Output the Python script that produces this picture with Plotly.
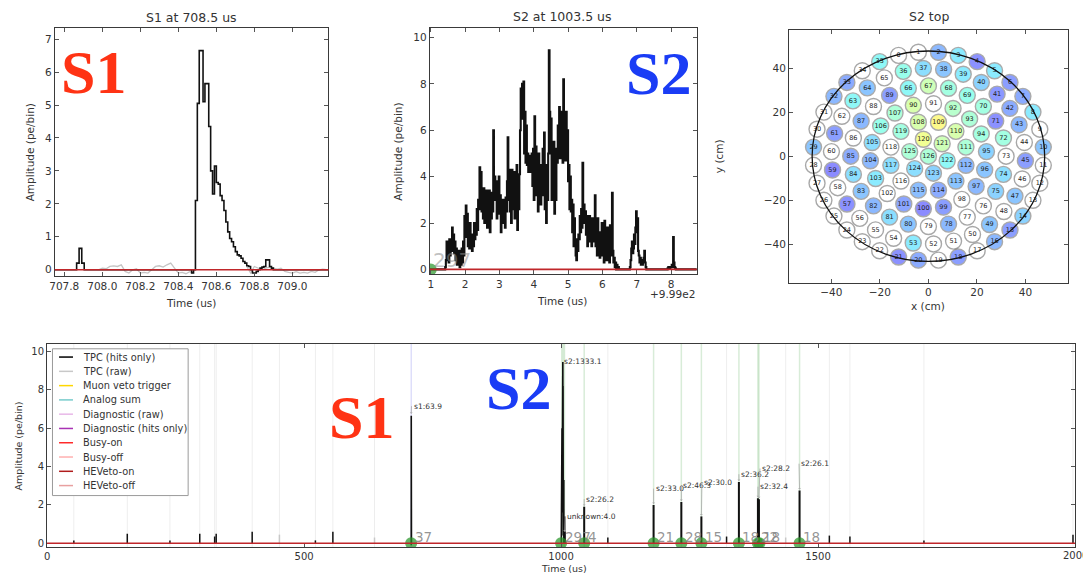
import numpy as np
import plotly.graph_objects as go

W, H = 1083, 577
SANS = "DejaVu Sans"
SERIF = "Liberation Serif"

# ---------------- S1 close-up (time in us, amplitude in pe/bin) ----------------
s1_bump_t = [707.75, 707.865, 707.878, 707.892, 707.905]
s1_bump_v = [0.0, 0.2, 0.65, 0.2, 0.0]
s1_t0, s1_dt = 708.47, 0.01
s1_vals = [-0.1, 0.0, 2.1, 5.05, 6.65, 6.65, 5.1, 5.65, 5.65, 4.35,
           3.0, 2.3, 3.15, 2.65, 2.6, 2.25, 2.1, 1.8, 1.45, 1.15,
           0.95, 0.85, 0.7, 0.55, 0.45, 0.42, 0.35, 0.25, 0.2, 0.12,
           0.1, 0.0, -0.1, -0.1, -0.05, 0.0, 0.05, 0.08, 0.1, 0.3,
           0.3, 0.1, 0.05, 0.0]
s1_end_t = 709.19
raw_dt = 0.02
s1_raw_a_t0 = 707.98
s1_raw_a = [0.0, 0.05, 0.03, 0.1, 0.12, 0.1, 0.15, -0.05, -0.1, 0.0,
            0.03, -0.1, -0.08, -0.1, 0.0, 0.1, 0.12, 0.08, 0.15, 0.2,
            0.05, -0.1, -0.08, -0.12, -0.06, -0.1]
s1_raw_b_t0 = 708.76
s1_raw_b = [0.1, -0.1, 0.1, 0.05, 0.0, 0.05, 0.08, 0.05, 0.02, 0.05,
            -0.05, -0.08, -0.1, -0.06, -0.1, -0.08, -0.1, -0.05, -0.08, 0.0,
            0.02, 0.0]
s1_ticks = [707.8, 708.0, 708.2, 708.4, 708.6, 708.8, 709.0]

# ---------------- S2 close-up (20 ns bins) ----------------
s2_t0, s2_dt = 1000.40, 0.02
s2_vals = [
    0.0, 0.1, 0.4, 1.2, 0.5, 0.9, 0.3, 1.3, 0.6, 1.0,
    0.8, 1.8, 1.1, 1.5, 0.7, 1.2, 0.4, 0.9, 0.2, 0.6,
    0.3, 0.8, 0.1, 0.5, 0.2, 0.9, 0.3, 1.2, 0.6, 2.3,
    1.4, 2.75, 1.6, 2.4, 1.0, 1.5, 0.9, 2.0, 1.1, 1.5,
    0.8, 1.4, 1.0, 2.0, 1.3, 1.6, 1.5, 2.6, 1.7, 3.0,
    2.6, 4.4, 3.0, 4.2, 2.5, 3.3, 2.2, 3.5, 2.0, 3.2,
    2.6, 3.4, 1.8, 3.0, 2.4, 3.4, 1.6, 2.8, 2.2, 3.3,
    2.5, 6.0, 3.0, 4.0, 3.6, 3.2, 2.2, 3.8, 2.6, 4.0,
    2.4, 3.2, 1.6, 2.6, 2.0, 3.0, 2.2, 2.8, 1.8, 3.1,
    2.5, 3.8, 5.7, 3.0, 4.3, 2.5, 3.6, 2.0, 4.3, 3.0,
    2.6, 4.2, 2.2, 3.8, 2.8, 4.5, 1.7, 3.5, 2.6, 4.1,
    6.0, 7.8, 7.2, 8.0, 6.5, 8.1, 5.0, 6.8, 4.6, 6.2,
    4.5, 5.0, 4.2, 4.9, 4.5, 4.8, 4.2, 5.0, 3.6, 5.2,
    3.0, 6.6, 4.0, 5.3, 3.2, 4.8, 2.5, 5.0, 3.5, 4.2,
    2.8, 4.5, 3.2, 5.2, 3.8, 5.9, 2.6, 4.0, 2.0, 4.5,
    3.0, 5.0, 9.45, 6.8, 5.0, 6.5, 3.0, 4.8, 3.4, 5.5,
    2.4, 4.0, 3.0, 5.2, 4.6, 6.2, 5.0, 7.0, 4.8, 6.5,
    5.5, 6.8, 4.6, 8.2, 5.0, 6.4, 4.7, 6.8, 5.0, 6.0,
    3.8, 4.5, 2.6, 4.0, 2.5, 3.0, 1.6, 2.8, 1.0, 2.2,
    1.0, 0.6, 0.4, 1.3, 0.8, 1.5, 1.3, 2.3, 1.6, 2.6,
    1.8, 4.6, 2.2, 2.8, 2.0, 2.5, 1.5, 2.3, 1.0, 2.0,
    1.2, 2.3, 1.4, 1.8, 1.0, 2.2, 1.5, 2.0, 1.2, 3.2,
    1.0, 1.8, 0.6, 2.2, 1.2, 1.6, 0.5, 1.4, 0.8, 2.0,
    0.6, 1.3, 0.3, 2.1, 0.8, 1.2, 0.4, 1.8, 0.5, 1.0,
    0.3, 1.9, 0.6, 1.2, 3.3, 0.8, 0.3, 0.5, 0.1, 0.3,
    0.0, 0.2, 0.05, 0.1, 0.0, 0.0, 0.0, 0.0, 0.0, 0.0,
    0.0, 0.0, 0.0, 0.0, 0.0, 0.0, 0.0, 0.0, 0.0, 0.0,
    0.1, 0.4, 0.9, 1.2, 0.7, 0.9, 1.5, 1.1, 1.8, 2.5,
    1.6, 2.2, 0.8, 0.6, 0.3, 0.5, 0.2, 0.4, 0.2, 0.3,
    0.5, 0.8, 0.3, 0.1, 0.0, 0.0, 0.0, 0.0, 0.0, 0.0,
    0.0, 0.0, 0.0, 0.0, 0.0, 0.0, 0.0, 0.0, 0.0, 0.0,
    0.0, 0.0, 0.0, 0.0, 0.0, 0.0, 0.0, 0.0, 0.0, 0.0,
    0.0, 0.0, 0.0, 0.0, 0.0, 0.05, 0.1, 0.1, 0.05, 0.1,
    0.1, 0.2, 0.1, 1.4, 0.3, 0.1, 0.05, 0.0, 0.0, 0.0,
]
s2_ticks = [1000, 1001, 1002, 1003, 1004, 1005, 1006, 1007]
s2_ticktext = ["1", "2", "3", "4", "5", "6", "7", "8"]

# ---------------- S2 top hit pattern ----------------
ring_radius = [47.5, 40.0, 32.0, 24.0, 16.0, 8.0, 0.0]
ring_count = [36, 30, 24, 18, 12, 6, 1]
ring_start_deg = 105.0
pmt_area = [
    None, None, 8, 12, 5, 12, 6, 7, 12, None, 9, None, None, None, 10, 6, 8, None,
    6, None, 7, 5, None, None, None, None, None, None, None, 9, None, None, 8, 7, None, 13,
    14, 11, 9, 12, 10, 5.5, 7, 8, None, 6, None, 9, None, 9, None,
    None, None, 12, None, None, None, 5, None, 4.5, None, 6, None, 13, 9, None,
    13, 19, 15, 14, 15, 5, 15, None, 11, 10, None, None,
    8, None, 9, 11, 8, 9, 11, 7, None, 8, None, 6,
    20, None, 17, 16, 15, 10, 9, 8, None, 6, 4, 6.5, None, 12, 8, 11, 14, 16,
    20, 23.5, 20, 16, 8, 9, 7, 8.5, None, 11, None, 15,
    22.5, 19, 13, 10, 11, 16,
    16,
]
tpc_radius = 47.9
area_max = 36.0

# ---------------- Full event ----------------
hit_times = [52, 156, 239, 297, 326, 329, 399, 522, 556, 1091, 1322, 1522, 1562, 1706, 1996]
hit_heights = [0.15, 0.5, 0.15, 0.5, 0.35, 0.5, 0.6, 0.15, 0.6, 0.3, 0.35, 0.4, 0.35, 0.15, 0.45]
raw_hit_times = [452, 637, 1437]
raw_hit_heights = [0.45, 0.3, 0.3]
small_s2_times = [1007.0, 1045, 1180, 1234, 1273, 1346, 1383, 1385, 1464]
small_s2_heights = [0.6, 1.9, 2.0, 2.15, 1.4, 3.2, 2.35, 2.3, 2.75]

peak_text = ["s1:63.9", "s2:1333.1", "unknown:4.0", "s2:26.2", "s2:33.0", "s2:46.3",
             "s2:30.0", "s2:36.2", "s2:32.4", "s2:28.2", "s2:26.1"]
peak_head_t = [708.5, 1003.4, 1007.0, 1045, 1180, 1234, 1273, 1346, 1383, 1385, 1464]
peak_head_y = [6.75, 9.45, 0.6, 1.95, 2.05, 2.2, 1.45, 3.25, 2.4, 2.35, 2.8]
peak_text_t = [709, 1002, 1008, 1045, 1180, 1234, 1274, 1346, 1383, 1387, 1463]
peak_text_y = [7.15, 9.5, 1.4, 2.3, 2.85, 3.0, 3.15, 3.6, 2.95, 3.9, 4.15]

peak_left_t = [708.3, 1000.0, 1045, 1180, 1234, 1273, 1346, 1383, 1386, 1464]
peak_channels = ["37", "297", "4", "21", "28", "15", "18", "22", "18", "18"]
s2_band = [1000.0, 1008.0]

legend_names = ["TPC (hits only)", "TPC (raw)", "Muon veto trigger", "Analog sum",
                "Diagnostic (raw)", "Diagnostic (hits only)", "Busy-on", "Busy-off",
                "HEVeto-on", "HEVeto-off"]
legend_colors = ["#000000", "#c8c8c8", "#ffd700", "#78cccc", "#e8b8e8",
                 "#a832b4", "#ff2a2a", "#ffb0b0", "#b01c1c", "#e8a0a0"]

# matplotlib-style jet
JET = [[0.0, "rgb(0,0,128)"], [0.11, "rgb(0,0,255)"], [0.125, "rgb(0,0,255)"],
       [0.34, "rgb(0,219,255)"], [0.35, "rgb(0,230,247)"], [0.375, "rgb(21,255,226)"],
       [0.64, "rgb(239,255,8)"], [0.65, "rgb(247,245,0)"], [0.66, "rgb(255,236,0)"],
       [0.89, "rgb(255,19,0)"], [0.91, "rgb(232,0,0)"], [1.0, "rgb(128,0,0)"]]


def px_x(p):
    return p / W


def px_y(p):
    return 1 - p / H


def sticks(times, heights):
    xs, ys = [], []
    for t, h in zip(times, heights):
        xs += [t, t, None]
        ys += [0, h, None]
    return xs, ys


s1_t = [s1_t0 + i * s1_dt for i in range(len(s1_vals))]
s1_x = s1_bump_t + s1_t + [s1_end_t]
s1_y = s1_bump_v + s1_vals + [0.0]
raw_x = [s1_raw_a_t0 + i * raw_dt for i in range(len(s1_raw_a))] + [None] + \
        [s1_raw_b_t0 + i * raw_dt for i in range(len(s1_raw_b))]
raw_y = s1_raw_a + [None] + s1_raw_b
s2_t = [s2_t0 + i * s2_dt for i in range(len(s2_vals))]

fig = go.Figure()

# ---- panel 1: S1 ----
fig.add_trace(go.Scatter(x=raw_x, y=raw_y, mode="lines", line=dict(color="#c4c4c4", width=1.3),
                         xaxis="x", yaxis="y", hoverinfo="skip"))
fig.add_trace(go.Scatter(x=s1_x, y=s1_y, mode="lines", line=dict(color="#111", width=1.6, shape="hv"),
                         xaxis="x", yaxis="y"))

# ---- panel 2: S2 ----
fig.add_trace(go.Scatter(x=[999.97, s2_t0] + s2_t + [s2_t[-1] + s2_dt, 1007.75],
                         y=[0, 0] + s2_vals + [0, 0], mode="lines",
                         line=dict(color="#111", width=2.1, shape="hv"), xaxis="x2", yaxis="y2"))
fig.add_trace(go.Scatter(x=[peak_left_t[1]], y=[0], mode="markers",
                         marker=dict(size=12, color="rgba(40,150,40,0.7)"), xaxis="x2", yaxis="y2"))

# ---- panel 3: PMT hit pattern ----
pmt_x, pmt_y = [], []
for r, n in zip(ring_radius, ring_count):
    for k in range(n):
        a = np.radians(ring_start_deg - 360.0 * k / n)
        pmt_x.append(r * np.cos(a))
        pmt_y.append(r * np.sin(a))
pmt_ids = list(range(len(pmt_x)))
off = [i for i in pmt_ids if pmt_area[i] is None]
on = [i for i in pmt_ids if pmt_area[i] is not None]
fig.add_trace(go.Scatter(x=[pmt_x[i] for i in off], y=[pmt_y[i] for i in off],
                         mode="markers+text", text=[str(i) for i in off],
                         textfont=dict(family=SANS, size=6.5, color="#222"),
                         marker=dict(size=16, color="white", line=dict(color="#a8a8a8", width=1.4)),
                         xaxis="x3", yaxis="y3"))
fig.add_trace(go.Scatter(x=[pmt_x[i] for i in on], y=[pmt_y[i] for i in on],
                         mode="markers+text", text=[str(i) for i in on],
                         textfont=dict(family=SANS, size=6.5, color="#222"),
                         marker=dict(size=16, color=[pmt_area[i] for i in on], colorscale=JET,
                                     cmin=0, cmax=area_max, opacity=0.45,
                                     line=dict(color="#444", width=1.4)),
                         xaxis="x3", yaxis="y3"))

# ---- panel 4: full event ----
rx, ry = sticks(raw_hit_times, raw_hit_heights)
fig.add_trace(go.Scatter(x=rx, y=ry, mode="lines", line=dict(color="#c8c8c8", width=1.5),
                         xaxis="x4", yaxis="y4"))
hx, hy = sticks(hit_times, hit_heights)
fig.add_trace(go.Scatter(x=hx, y=hy, mode="lines", line=dict(color="#111", width=1.5),
                         xaxis="x4", yaxis="y4"))
px_, py_ = sticks(small_s2_times, small_s2_heights)
fig.add_trace(go.Scatter(x=px_, y=py_, mode="lines", line=dict(color="#111", width=2),
                         xaxis="x4", yaxis="y4"))
fig.add_trace(go.Scatter(x=s1_t, y=s1_vals, mode="lines", line=dict(color="#111", width=1.6),
                         xaxis="x4", yaxis="y4"))
fig.add_trace(go.Scatter(x=s2_t, y=s2_vals, mode="lines", line=dict(color="#111", width=1.6),
                         xaxis="x4", yaxis="y4"))
fig.add_trace(go.Scatter(x=peak_left_t, y=[0] * len(peak_left_t), mode="markers",
                         marker=dict(size=12, color="rgba(40,150,40,0.72)"),
                         xaxis="x4", yaxis="y4"))

shapes = []
# faint markers of every hit / peak across the full-event panel
for t in hit_times + raw_hit_times:
    shapes.append(dict(type="line", xref="x4", yref="y4 domain", x0=t, x1=t, y0=0, y1=1,
                       line=dict(color="rgba(0,0,0,0.07)", width=1), layer="below"))
for t in small_s2_times[1:]:
    shapes.append(dict(type="line", xref="x4", yref="y4 domain", x0=t, x1=t, y0=0, y1=1,
                       line=dict(color="rgba(60,160,60,0.2)", width=1.5), layer="below"))
shapes.append(dict(type="line", xref="x4", yref="y4 domain", x0=peak_head_t[0], x1=peak_head_t[0],
                   y0=0, y1=1, line=dict(color="rgba(90,90,230,0.2)", width=1.5), layer="below"))
shapes.append(dict(type="rect", xref="x4", yref="y4 domain", x0=s2_band[0], x1=s2_band[1],
                   y0=0, y1=1, fillcolor="rgba(60,160,60,0.22)", line=dict(width=0), layer="below"))
# zero lines
for xa, ya in [("x", "y"), ("x2", "y2"), ("x4", "y4")]:
    shapes.append(dict(type="line", xref=xa + " domain", yref=ya, x0=0, x1=1, y0=0, y1=0,
                       line=dict(color="#c0262a", width=1.6)))
# TPC outline
shapes.append(dict(type="circle", xref="x3", yref="y3", x0=-tpc_radius, x1=tpc_radius,
                   y0=-tpc_radius, y1=tpc_radius, line=dict(color="#111", width=1.3)))
# legend box
shapes.append(dict(type="rect", xref="paper", yref="paper", x0=px_x(47.7), x1=px_x(184),
                   y0=px_y(497.3), y1=px_y(350), fillcolor="white",
                   line=dict(color="#9a9a9a", width=1)))
annotations = []
for i, (name, col) in enumerate(zip(legend_names, legend_colors)):
    yy = 358.3 + i * 14.33
    shapes.append(dict(type="line", xref="paper", yref="paper", x0=px_x(54.3), x1=px_x(68.3),
                       y0=px_y(yy), y1=px_y(yy), line=dict(color=col, width=1.5)))
    annotations.append(dict(text=name, xref="paper", yref="paper", x=px_x(76.5), y=px_y(yy),
                            xanchor="left", yanchor="middle", showarrow=False,
                            font=dict(family=SANS, size=9.8, color="#333")))

# peak annotations
for txt, hx_, hy_, tx, ty in zip(peak_text, peak_head_t, peak_head_y, peak_text_t, peak_text_y):
    annotations.append(dict(text=txt, xref="x4", yref="y4", x=hx_, y=hy_, axref="x4", ayref="y4",
                            ax=tx, ay=ty, xanchor="left", yanchor="middle", showarrow=True,
                            arrowhead=1, arrowsize=0.6, arrowwidth=0.8, arrowcolor="#aaa",
                            font=dict(family=SANS, size=7.5, color="#333")))
for t, c in zip(peak_left_t, peak_channels):
    annotations.append(dict(text=c, xref="x4", yref="y4", x=t + 3, y=0, xanchor="left",
                            yanchor="bottom", yshift=-4, showarrow=False,
                            font=dict(family=SANS, size=13.5, color="rgba(130,130,130,0.85)")))
annotations.append(dict(text=peak_channels[1], xref="x2", yref="y2", x=peak_left_t[1] + 0.02, y=0,
                        xanchor="left", yanchor="bottom", yshift=-5, showarrow=False,
                        font=dict(family=SANS, size=20, color="rgba(140,140,140,0.55)")))
# x tick label at the right edge of the full-event axis
annotations.append(dict(text="2000", xref="x4", yref="paper", x=2000, y=px_y(557),
                        xanchor="center", yanchor="middle", showarrow=False,
                        font=dict(family=SANS, size=10, color="#333")))

# titles and axis labels
def label(text, x, y, size=11, angle=0, **kw):
    annotations.append(dict(text=text, xref="paper", yref="paper", x=px_x(x), y=px_y(y),
                            xanchor="center", yanchor="middle", showarrow=False, textangle=angle,
                            font=dict(family=kw.get("family", SANS), size=size,
                                      color=kw.get("color", "#333"))))

label("S1 at 708.5 us", 187, 18, 12.5)
label("S2 at 1003.5 us", 560, 17, 12.5)
label("S2 top", 928, 17, 12.5)
label("Time (us)", 187, 304, 10.5)
label("Time (us)", 560, 302, 10.5)
label("+9.99e2", 671, 295, 10.5)
label("x (cm)", 927, 307, 10.5)
label("y (cm)", 718, 157, 10.5, angle=-90)
label("Amplitude (pe/bin)", 26, 153, 10.5, angle=-90)
label("Amplitude (pe/bin)", 395, 152, 10.5, angle=-90)
label("Time (us)", 562, 570, 9.5)
label("Amplitude (pe/bin)", 14, 447, 9.5, angle=-90)
label("<b>S1</b>", 89, 72, 62, family=SERIF, color="#ff3314")
label("<b>S2</b>", 657, 73, 62, family=SERIF, color="#1a3cf5")
label("<b>S1</b>", 358, 418, 62, family=SERIF, color="#ff3314")
label("<b>S2</b>", 516, 389, 62, family=SERIF, color="#1a3cf5")

axis_common = dict(showline=True, linecolor="#3a3a3a", linewidth=1, mirror="ticks",
                   ticks="inside", ticklen=4, tickwidth=1, tickcolor="#555",
                   showgrid=False, zeroline=False,
                   tickfont=dict(family=SANS, size=10.5, color="#333"))
bottom_axis = dict(axis_common, tickfont=dict(family=SANS, size=10, color="#333"))

fig.update_layout(
    width=W, height=H, margin=dict(l=0, r=0, t=0, b=0),
    paper_bgcolor="white", plot_bgcolor="white", showlegend=False,
    xaxis=dict(domain=[px_x(50), px_x(325)], anchor="y", range=[707.75, 709.19],
               tickvals=s1_ticks, ticktext=[f"{v:.1f}" for v in s1_ticks], **axis_common),
    yaxis=dict(domain=[px_y(277.3), px_y(27.7)], anchor="x", range=[-0.2, 7.35],
               tickvals=list(range(8)), **axis_common),
    xaxis2=dict(domain=[px_x(426.7), px_x(695)], anchor="y2", range=[999.97, 1007.75],
                tickvals=s2_ticks, ticktext=s2_ticktext, **axis_common),
    yaxis2=dict(domain=[px_y(275), px_y(28.3)], anchor="x2", range=[-0.2, 10.4],
                tickvals=[0, 2, 4, 6, 8, 10], **axis_common),
    xaxis3=dict(domain=[px_x(787.7), px_x(1067.7)], anchor="y3", range=[-57.4, 57.4],
                tickvals=[-40, -20, 0, 20, 40], **axis_common),
    yaxis3=dict(domain=[px_y(283.5), px_y(30)], anchor="x3", range=[-57.5, 57.5],
                tickvals=[-40, -20, 0, 20, 40], **axis_common),
    xaxis4=dict(domain=[px_x(42.3), px_x(1075)], anchor="y4", range=[0, 2000],
                tickvals=[0, 500, 1000, 1500], **bottom_axis),
    yaxis4=dict(domain=[px_y(549), px_y(345)], anchor="x4", range=[-0.2, 10.4],
                tickvals=[0, 2, 4, 6, 8, 10], **bottom_axis),
    shapes=shapes, annotations=annotations,
)

fig.write_html("out.html")
